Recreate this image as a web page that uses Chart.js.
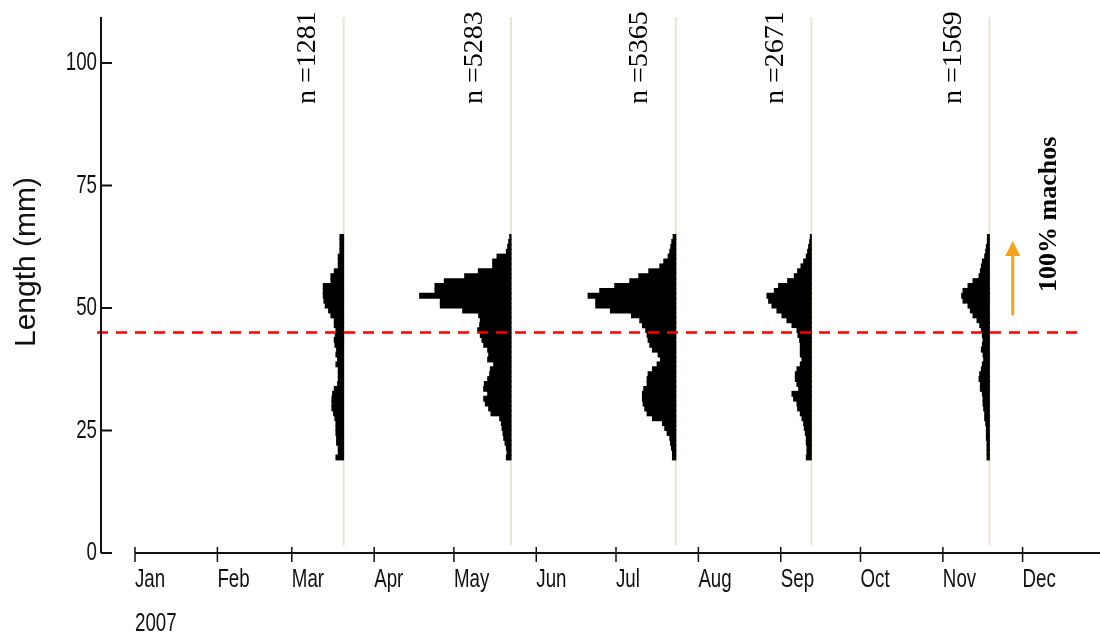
<!DOCTYPE html>
<html>
<head>
<meta charset="utf-8">
<script src="https://cdn.jsdelivr.net/npm/chart.js@4.4.0/dist/chart.umd.min.js"></script>
<style>
  html, body { margin: 0; padding: 0; background: #fff; overflow: hidden; }
</style>
</head>
<body>
<canvas id="chart" width="1100" height="637"></canvas>
<script>
// month ticks and labels
const monthStarts = ['2007-01-01', '2007-02-01', '2007-03-01', '2007-04-01', '2007-05-01', '2007-06-01',
  '2007-07-01', '2007-08-01', '2007-09-01', '2007-10-01', '2007-11-01', '2007-12-01'];
const monthLabels = ['Jan', 'Feb', 'Mar', 'Apr', 'May', 'Jun', 'Jul', 'Aug', 'Sep', 'Oct', 'Nov', 'Dec'];
const yearLabel = '2007';
const lengthTicks = [0, 25, 50, 75, 100];
const yTitle = 'Length (mm)';

// length classes (mm, lower bound of each 1 mm class)
const lengthClasses = [19, 20, 21, 22, 23, 24, 25, 26, 27, 28, 29, 30, 31, 32, 33, 34, 35, 36, 37, 38, 39, 40,
  41, 42, 43, 44, 45, 46, 47, 48, 49, 50, 51, 52, 53, 54, 55, 56, 57, 58, 59, 60, 61, 62, 63, 64];

// sampling dates and sample sizes
const sampleDates = ['2007-03-20', '2007-05-22', '2007-07-23', '2007-09-12', '2007-11-18'];
const sampleN = [1281, 5283, 5365, 2671, 1569];

// frequencies per length class (19 -> 64 mm)
const freqMar = [23, 16, 16, 21, 21, 23, 23, 23, 26, 30, 35, 35, 35, 33, 28, 18, 16, 16, 16, 23, 18, 23, 21, 26,
  28, 25, 23, 28, 28, 38, 45, 55, 59, 61, 61, 61, 38, 38, 28, 16, 16, 16, 11, 11, 11, 11];
const freqMay = [14, 12, 14, 18, 22, 24, 27, 29, 34, 60, 67, 77, 82, 70, 82, 80, 70, 64, 62, 52, 70, 67, 70, 82,
  87, 92, 100, 94, 92, 97, 145, 212, 212, 274, 228, 228, 200, 139, 98, 55, 55, 42, 14, 10, 7, 4];
const freqJul = [10, 10, 13, 16, 18, 26, 33, 40, 70, 86, 93, 98, 100, 100, 96, 86, 86, 83, 70, 56, 46, 53, 70, 78,
  83, 86, 90, 100, 108, 133, 196, 240, 240, 263, 228, 183, 138, 111, 81, 48, 36, 23, 18, 15, 12, 8];
const freqSep = [15, 13, 13, 15, 15, 18, 21, 23, 28, 33, 41, 43, 53, 58, 38, 43, 48, 48, 43, 33, 28, 33, 33, 33,
  35, 40, 43, 58, 73, 88, 103, 118, 128, 133, 111, 98, 71, 51, 41, 31, 23, 15, 11, 8, 5, 3];
const freqNov = [7, 7, 7, 7, 9, 9, 9, 11, 14, 14, 17, 19, 19, 21, 27, 27, 31, 29, 24, 21, 17, 19, 24, 21,
  19, 21, 24, 29, 37, 49, 57, 64, 79, 83, 79, 64, 49, 31, 27, 24, 21, 14, 11, 9, 6, 6];
const sampleFreqs = [freqMar, freqMay, freqJul, freqSep, freqNov];

const maturityLength = 45;   // dashed red line
const arrowFrom = 48.5, arrowTo = 63.7, arrowDay = 330.3;

const DAYS_PER_UNIT = 0.1255;   // horizontal length of one frequency unit
const Y_MAX = 109.4;
const X_MAX = 362;

const dayOf = s => (Date.parse(s) - Date.parse('2007-01-01')) / 864e5;
const monthDays = monthStarts.map(dayOf);
const sampleDays = sampleDates.map(s => dayOf(s) + 0.5);

const SANS = '"Liberation Sans", Arial, sans-serif';
const SERIF = '"Liberation Serif", "Times New Roman", serif';

const datasets = [];
sampleDays.forEach((d, i) => {
  datasets.push({
    type: 'bar',
    indexAxis: 'y',
    grouped: false,
    order: 1,
    backgroundColor: '#000',
    borderWidth: 0,
    barPercentage: 1,
    categoryPercentage: 1,
    inflateAmount: 0.5,
    data: lengthClasses.map((L, k) => ({ y: L + 0.5, x: [d - sampleFreqs[i][k] * DAYS_PER_UNIT, d] }))
  });
  datasets.push({
    type: 'line',
    order: 2,
    borderColor: '#e9e5d3',
    borderWidth: 2,
    pointRadius: 0,
    data: [{ x: d, y: 1.6 }, { x: d, y: Y_MAX }]
  });
});
datasets.push({
  type: 'line',
  order: 0,
  clip: false,
  borderColor: '#ff0000',
  borderWidth: 2.5,
  borderDash: [11, 8],
  pointRadius: 0,
  data: [{ x: -14.3, y: maturityLength }, { x: 355, y: maturityLength }]
});

// narrow, tall label text like the original bitmap font
function narrowText(ctx, text, px, py, align, baseline) {
  ctx.save();
  ctx.translate(px, py);
  ctx.scale(0.72, 1);
  ctx.textAlign = align;
  ctx.textBaseline = baseline;
  ctx.fillText(text, 0, 0);
  ctx.restore();
}

const decor = {
  id: 'decor',
  afterDraw(chart) {
    const { ctx, chartArea: a, scales: { x, y } } = chart;
    ctx.save();
    ctx.strokeStyle = '#111';
    // offset y axis with inward ticks
    const ax = a.left - 34;
    ctx.lineWidth = 2;
    ctx.beginPath();
    ctx.moveTo(ax, a.top);
    ctx.lineTo(ax, a.bottom);
    y.ticks.forEach(t => {
      const py = y.getPixelForValue(t.value);
      ctx.moveTo(ax, py);
      ctx.lineTo(ax + 11, py);
    });
    // x axis from Jan 1
    ctx.moveTo(x.getPixelForValue(0), a.bottom);
    ctx.lineTo(chart.width, a.bottom);
    ctx.stroke();
    ctx.lineWidth = 1.5;
    ctx.beginPath();
    x.ticks.forEach(t => {
      const px = x.getPixelForValue(t.value);
      ctx.moveTo(px, a.bottom - 6);
      ctx.lineTo(px, a.bottom + 9);
    });
    ctx.stroke();

    // tick labels
    ctx.fillStyle = '#111';
    ctx.font = '26px ' + SANS;
    y.ticks.forEach(t => {
      narrowText(ctx, String(t.value), ax - 4, y.getPixelForValue(t.value), 'right', 'middle');
    });
    x.ticks.forEach((t, i) => {
      narrowText(ctx, monthLabels[i], x.getPixelForValue(t.value), a.bottom + 27, 'left', 'middle');
    });
    narrowText(ctx, yearLabel, x.getPixelForValue(0), 624, 'left', 'middle');

    // y title
    ctx.save();
    ctx.translate(27, 262);
    ctx.rotate(-Math.PI / 2);
    ctx.textAlign = 'center';
    ctx.textBaseline = 'middle';
    ctx.font = '30px ' + SANS;
    ctx.fillText(yTitle, 0, 0);
    ctx.restore();

    // sample sizes
    ctx.fillStyle = '#000';
    ctx.font = '28px ' + SERIF;
    ctx.textAlign = 'left';
    ctx.textBaseline = 'middle';
    sampleDays.forEach((d, i) => {
      ctx.save();
      ctx.translate(x.getPixelForValue(d) - 36, 104);
      ctx.rotate(-Math.PI / 2);
      ctx.fillText('n =' + sampleN[i], 0, 0);
      ctx.restore();
    });

    // 100% machos label
    ctx.save();
    ctx.font = 'bold 26px ' + SERIF;
    ctx.translate(a.right - 48, 292);
    ctx.rotate(-Math.PI / 2);
    ctx.fillText('100% machos', 0, 0);
    ctx.restore();

    // orange arrow
    const axp = x.getPixelForValue(arrowDay);
    const y0 = y.getPixelForValue(arrowFrom);
    const yTip = y.getPixelForValue(arrowTo);
    ctx.strokeStyle = '#f5a31a';
    ctx.fillStyle = '#f5a31a';
    ctx.lineWidth = 3;
    ctx.beginPath();
    ctx.moveTo(axp, y0);
    ctx.lineTo(axp, yTip + 14);
    ctx.stroke();
    ctx.beginPath();
    ctx.moveTo(axp, yTip);
    ctx.lineTo(axp - 7.5, yTip + 15);
    ctx.lineTo(axp + 7.5, yTip + 15);
    ctx.closePath();
    ctx.fill();
    ctx.restore();
  }
};

new Chart(document.getElementById('chart').getContext('2d'), {
  type: 'bar',
  data: { datasets },
  options: {
    responsive: false,
    animation: false,
    devicePixelRatio: 1,
    layout: { padding: { top: 17, right: 3, left: 135, bottom: 84 } },
    plugins: { legend: { display: false }, tooltip: { enabled: false } },
    scales: {
      x: {
        type: 'linear',
        display: false,
        offset: false,
        min: 0,
        max: X_MAX,
        afterBuildTicks: s => { s.ticks = monthDays.map(v => ({ value: v })); },
        grid: { offset: false }
      },
      y: {
        type: 'linear',
        display: false,
        offset: false,
        min: 0,
        max: Y_MAX,
        afterBuildTicks: s => { s.ticks = lengthTicks.map(v => ({ value: v })); },
        grid: { offset: false }
      }
    }
  },
  plugins: [decor]
});
</script>
</body>
</html>
